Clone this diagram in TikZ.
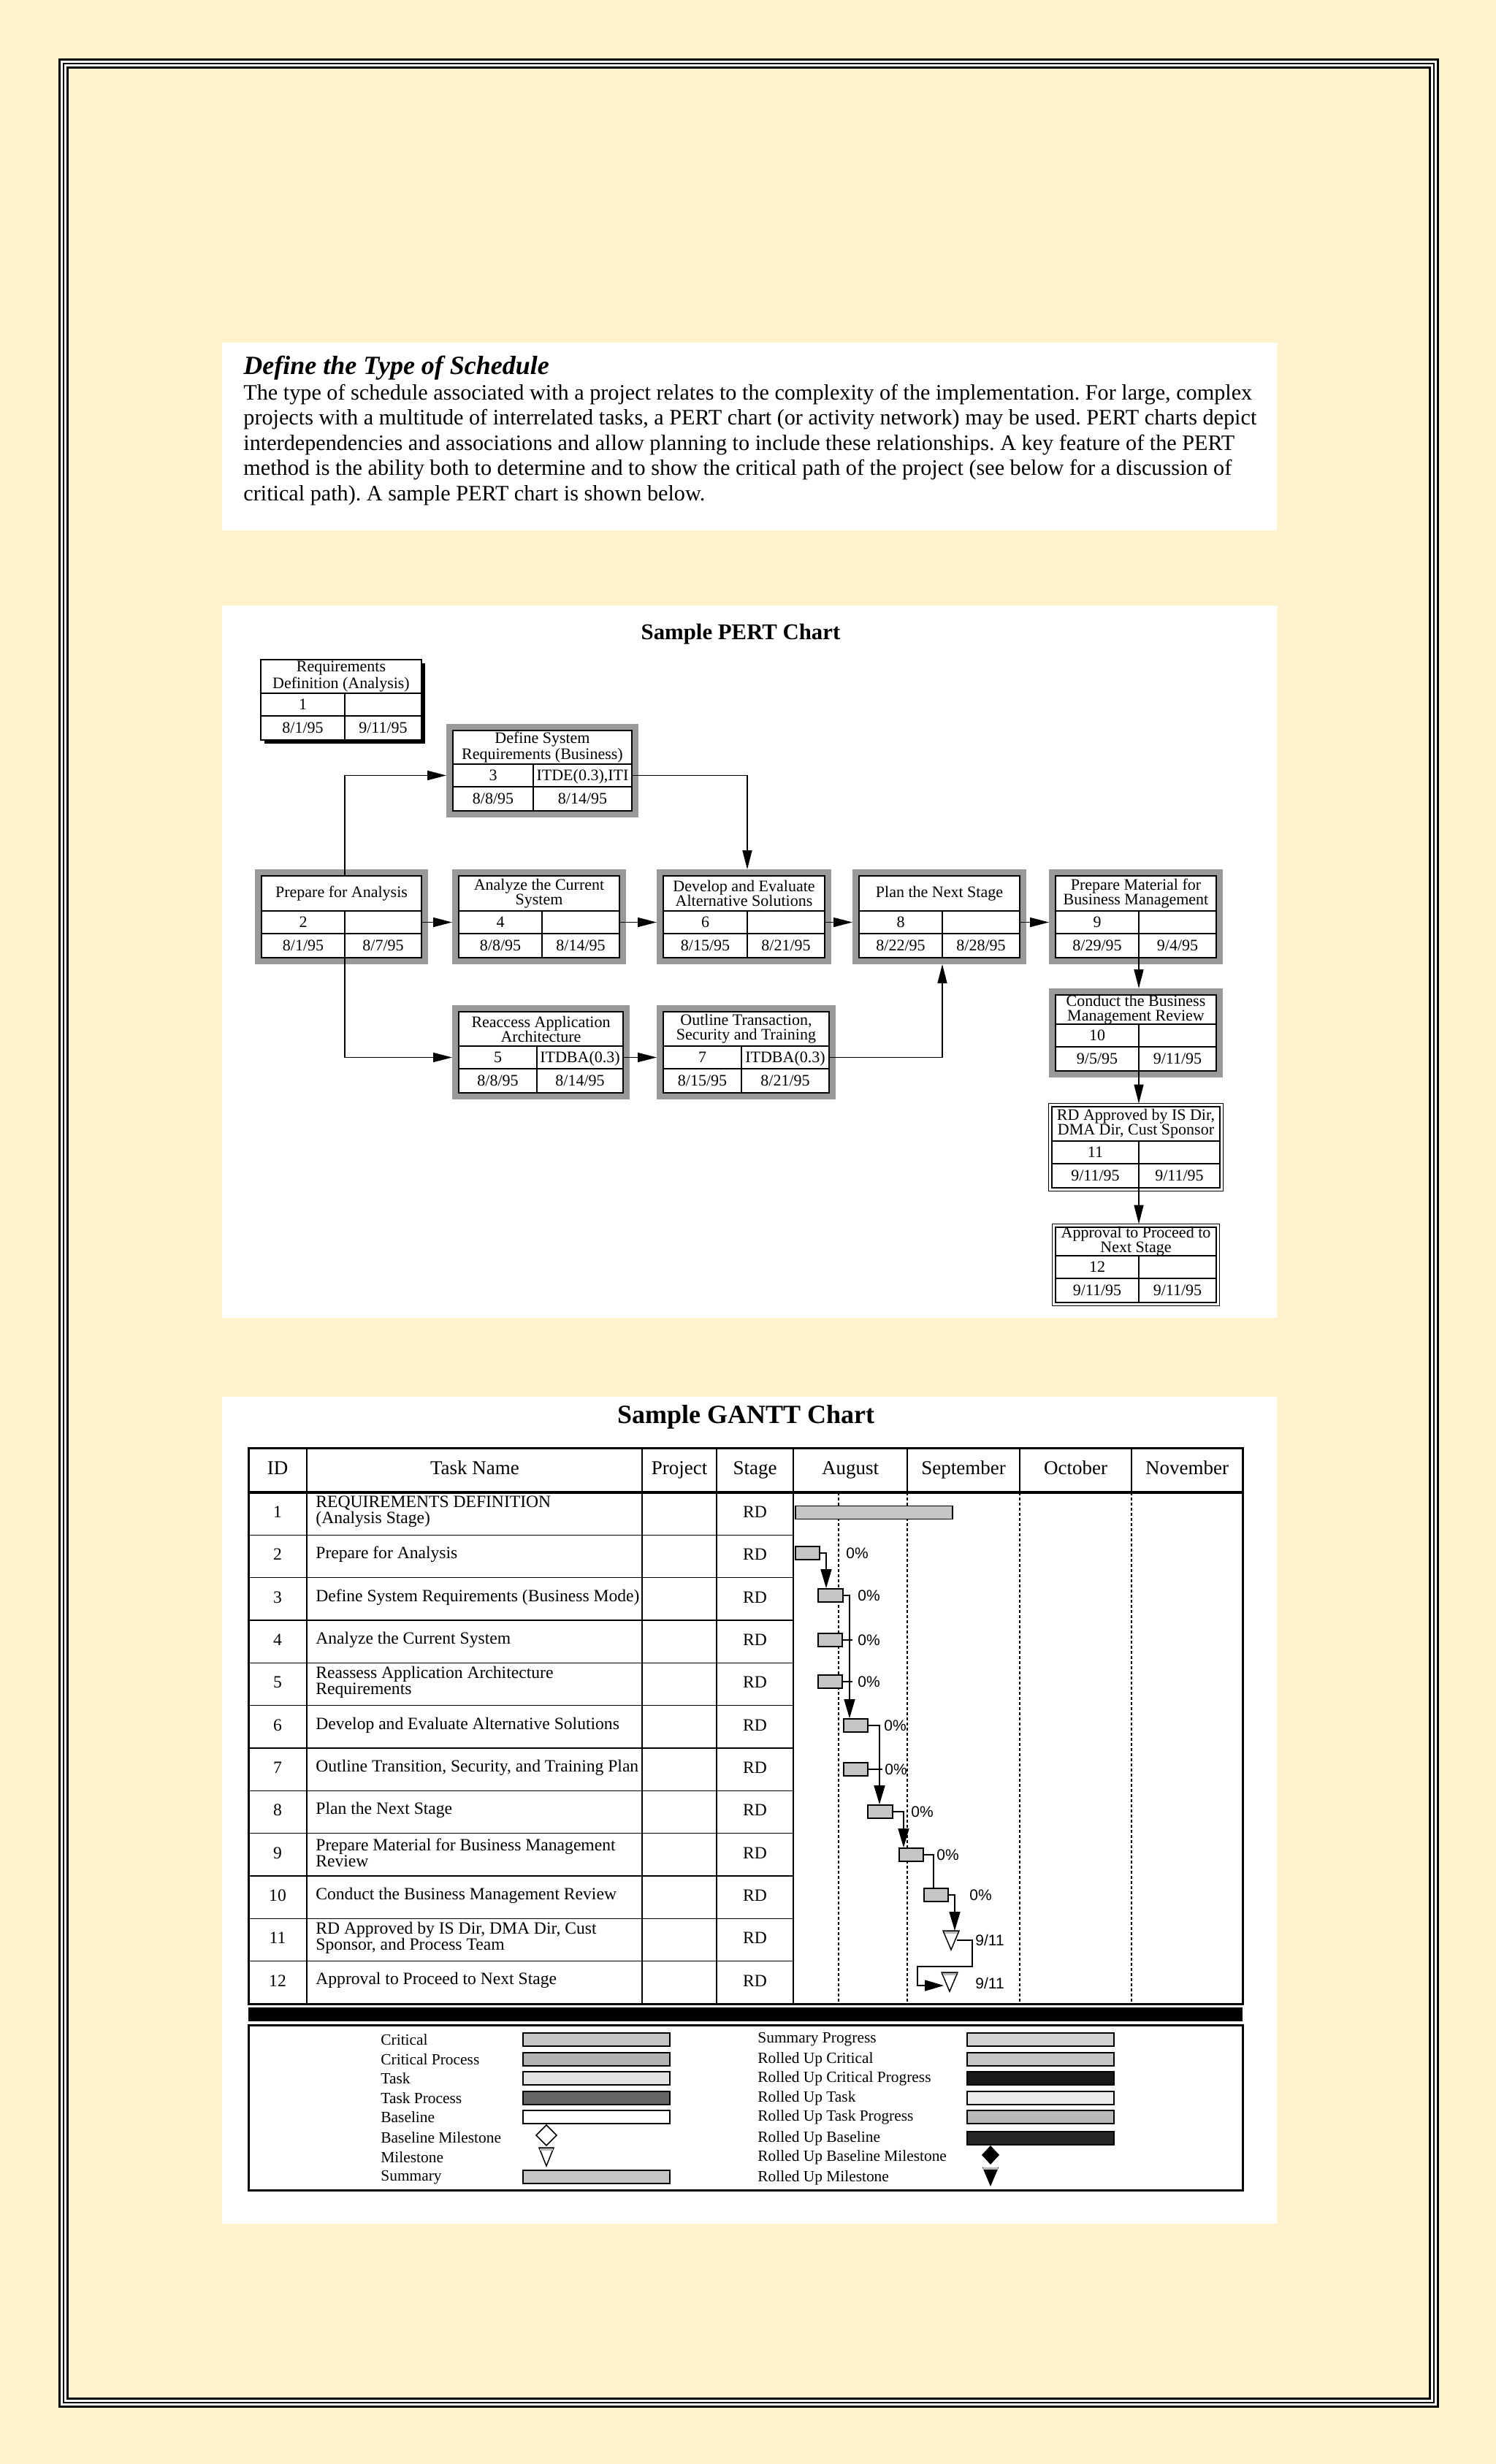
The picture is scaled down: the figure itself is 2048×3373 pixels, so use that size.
\documentclass[tikz,border=0pt]{standalone}
\usepackage{fontspec}
\setmainfont{Liberation Serif}
\setsansfont{Liberation Sans}
\usetikzlibrary{arrows.meta,calc}

\definecolor{pagebg}{RGB}{255,242,204}

% PERT activity box: name, x1, y1, x2, y2, split x, title, number, resource
\newcommand\pertbox[9]{%
  \draw[pframe] ({#2-4.5},{#3-4.5}) rectangle ({#4+4.5},{#5+4.5});
  \draw[pcell, fill=white] (#2,#3) rectangle (#4,#5);
  \draw[pcell] (#2,{#5-64}) -- (#4,{#5-64}) (#2,{#5-33}) -- (#4,{#5-33}) (#6,{#5-64}) -- (#6,#5);
  \node[ptitle] (#1h) at ({(#2+#4)/2},{(#3+#5-64)/2}) {#7};
  \node[pnum] (#1n) at ({(#2+#6)/2},{#5-48.5}) {#8};
  \node[pnum] (#1x) at ({(#6+#4)/2},{#5-48.5}) {#9};
  \coordinate (#1t) at (#6,#3);
  \coordinate (#1b) at (#6,#5);
  \coordinate (#1l) at (#2,{#5-48.5});
  \coordinate (#1r) at (#4,{#5-48.5});
  \coordinate (#1s) at ({(#2+#6)/2},{#5-16.5});
  \coordinate (#1e) at ({(#6+#4)/2},{#5-16.5});
}

\begin{document}
\frenchspacing
\begin{tikzpicture}[x=0.5pt, y=-0.5pt,
  pframe/.style={draw=black!40, line width=4.5pt},
  pcell/.style={line width=0.9pt},
  ptitle/.style={align=center, inner sep=0, font=\fontsize{11}{10}\selectfont},
  pnum/.style={inner sep=0, font=\fontsize{11}{12}\selectfont, text height=7.3pt, text depth=0pt},
  parr/.style={line width=0.75pt, -{Triangle[length=13pt,width=6.5pt]}, shorten >=4.5pt},
  gline/.style={line width=0.75pt},
  gbar/.style={draw, line width=0.9pt, fill=gray!45, inner sep=0, minimum height=9pt, anchor=west},
  garr/.style={line width=0.75pt, -{Triangle[length=13pt,width=7.5pt]}},
  ghead/.style={font=\fontsize{13.5}{14}\selectfont, anchor=base, inner sep=0},
  gtext/.style={font=\fontsize{11.8}{11}\selectfont, inner sep=0},
  gtask/.style={gtext, anchor=west, align=left},
  pct/.style={font=\sffamily\fontsize{10.5}{12}\selectfont, anchor=west, inner sep=0},
  legtext/.style={font=\fontsize{10.7}{12}\selectfont, anchor=west, inner sep=0},
  swatch/.style={draw, line width=1pt}]

\useasboundingbox (0,0) rectangle (2048,3373);
\fill[pagebg] (0,0) rectangle (2048,3373);

% page frame
\draw[white, line width=6.5pt] (87,87) rectangle (1963,3289);
\draw[line width=1.5pt] (81.5,81.5) rectangle (1968.5,3294.5);
\draw[line width=1pt] (87,87) rectangle (1963,3289);
\draw[line width=1.5pt] (92.5,92.5) rectangle (1957.5,3283.5);

% intro text
\fill[white] (304,469) rectangle (1748,726);
\node[anchor=base west, inner sep=0, font=\bfseries\itshape\fontsize{18}{20}\selectfont] (ttl) at (333,512) {Define the Type of Schedule};
\node[anchor=north west, inner sep=0, align=left, font=\fontsize{15.1}{17.25}\selectfont] (para) at (333,525.5)
  {The type of schedule associated with a project relates to the complexity of the implementation. For large, complex\\
   projects with a multitude of interrelated tasks, a PERT chart (or activity network) may be used. PERT charts depict\\
   interdependencies and associations and allow planning to include these relationships. A key feature of the PERT\\
   method is the ability both to determine and to show the critical path of the project (see below for a discussion of\\
   critical path). A sample PERT chart is shown below.};

% PERT chart
\fill[white] (304,829) rectangle (1748,1804);
\node[anchor=base, inner sep=0, font=\bfseries\fontsize{15.4}{18}\selectfont] (pttl) at (1014,875) {Sample PERT Chart};

\begin{scope}[pframe/.style={draw=none}]
  \fill (362,908) rectangle (582,1018);
  \pertbox{b1}{357}{903}{577}{1013}{472}{Requirements\\Definition (Analysis)}{1}{}
\end{scope}
\pertbox{b2}{358}{1199}{577}{1311}{472}{Prepare for Analysis}{2}{}
\pertbox{b3}{620}{1000}{865}{1110}{730}{Define System\\Requirements (Business)}{3}{ITDE(0.3),ITI}
\pertbox{b4}{628}{1199}{848}{1311}{742}{Analyze the Current\\System}{4}{}
\pertbox{b5}{628}{1385}{853}{1496}{735}{Reaccess Application\\Architecture}{5}{ITDBA(0.3)}
\pertbox{b6}{908}{1199}{1129}{1311}{1023}{Develop and Evaluate\\Alternative Solutions}{6}{}
\pertbox{b7}{908}{1385}{1135}{1496}{1015}{Outline Transaction,\\Security and Training}{7}{ITDBA(0.3)}
\pertbox{b8}{1176}{1199}{1396}{1311}{1290}{Plan the Next Stage}{8}{}
\pertbox{b9}{1445}{1199}{1665}{1311}{1559}{Prepare Material for\\Business Management}{9}{}
\pertbox{b10}{1445}{1362}{1665}{1466}{1559}{Conduct the Business\\Management Review}{10}{}
\begin{scope}[pframe/.style={draw, line width=0.75pt}]
  \pertbox{b11}{1440}{1515}{1670}{1626}{1559}{RD Approved by IS Dir,\\DMA Dir, Cust Sponsor}{11}{}
  \pertbox{b12}{1445}{1680}{1665}{1783}{1559}{Approval to Proceed to\\Next Stage}{12}{}
\end{scope}

\node[pnum] (d1s) at (b1s) {8/1/95};   \node[pnum] (d1e) at (b1e) {9/11/95};
\node[pnum] (d2s) at (b2s) {8/1/95};   \node[pnum] (d2e) at (b2e) {8/7/95};
\node[pnum] (d3s) at (b3s) {8/8/95};   \node[pnum] (d3e) at (b3e) {8/14/95};
\node[pnum] (d4s) at (b4s) {8/8/95};   \node[pnum] (d4e) at (b4e) {8/14/95};
\node[pnum] (d5s) at (b5s) {8/8/95};   \node[pnum] (d5e) at (b5e) {8/14/95};
\node[pnum] (d6s) at (b6s) {8/15/95};  \node[pnum] (d6e) at (b6e) {8/21/95};
\node[pnum] (d7s) at (b7s) {8/15/95};  \node[pnum] (d7e) at (b7e) {8/21/95};
\node[pnum] (d8s) at (b8s) {8/22/95};  \node[pnum] (d8e) at (b8e) {8/28/95};
\node[pnum] (d9s) at (b9s) {8/29/95};  \node[pnum] (d9e) at (b9e) {9/4/95};
\node[pnum] (d10s) at (b10s) {9/5/95}; \node[pnum] (d10e) at (b10e) {9/11/95};
\node[pnum] (d11s) at (b11s) {9/11/95}; \node[pnum] (d11e) at (b11e) {9/11/95};
\node[pnum] (d12s) at (b12s) {9/11/95}; \node[pnum] (d12e) at (b12e) {9/11/95};

\draw[parr] (b2t) |- (b3l);
\draw[parr] (b2r) -- (b4l);
\draw[parr] (b2b) |- (b5l);
\draw[parr] (b3r) -| (b6t);
\draw[parr] (b4r) -- (b6l);
\draw[parr] (b5r) -- (b7l);
\draw[parr] (b6r) -- (b8l);
\draw[parr] (b7r) -| (b8b);
\draw[parr] (b8r) -- (b9l);
\draw[parr] (b9b) -- (b10t);
\draw[parr, shorten >=2.25pt] (b10b) -- (b11t);
\draw[parr, shorten >=2.25pt] (b11b) -- (b12t);

% GANTT chart
\fill[white] (304,1912) rectangle (1748,3044);
\node[anchor=base, inner sep=0, font=\bfseries\fontsize{18}{20}\selectfont] (gttl) at (1021,1948) {Sample GANTT Chart};

\node[ghead] (hid) at (380,2018) {ID};
\node[ghead] (htask) at (650,2018) {Task Name};
\node[ghead] (hproj) at (930,2018) {Project};
\node[ghead] (hstage) at (1033.5,2018) {Stage};
\node[ghead] (haug) at (1164,2018) {August};
\node[ghead] (hsep) at (1319,2018) {September};
\node[ghead] (hoct) at (1472.5,2018) {October};
\node[ghead] (hnov) at (1625,2018) {November};

\foreach \x in {420,879,981,1086,1242,1396,1549}
  \draw[gline] (\x,1982) -- (\x,2043);
\foreach \x in {420,879,981,1086}
  \draw[gline] (\x,2043) -- (\x,2743);
\foreach \x in {1148,1242,1396,1549}
  \draw[gline, dash pattern=on 2pt off 1.5pt] (\x,2043) -- (\x,2743);

\foreach \i/\task in {1/{REQUIREMENTS DEFINITION\\(Analysis Stage)}, 2/Prepare for Analysis,
    3/Define System Requirements (Business Mode), 4/Analyze the Current System,
    5/{Reassess Application Architecture\\Requirements}, 6/Develop and Evaluate Alternative Solutions,
    7/{Outline Transition, Security, and Training Plan}, 8/Plan the Next Stage,
    9/{Prepare Material for Business Management\\Review}, 10/Conduct the Business Management Review,
    11/{RD Approved by IS Dir, DMA Dir, Cust\\Sponsor, and Process Team}, 12/Approval to Proceed to Next Stage} {
  \node[gtext] (id\i) at (380,{2040.5+58.33*(\i-0.5)}) {\i};
  \node[gtask] (task\i) at (432,{2040.5+58.33*(\i-0.5)}) {\task};
  \node[gtext] (stg\i) at (1033.5,{2040.5+58.33*(\i-0.5)}) {RD};
  \draw[gline] (340,{2043+58.33*\i}) -- (1086,{2043+58.33*\i});
}

\draw[line width=1.5pt] (340,1982) rectangle (1701,2743);
\draw[line width=2pt] (340,2043) -- (1701,2043);

% bars
\node[gbar, minimum width=107.5pt] (g1) at (1088,2070.5) {};
\node[gbar, minimum width=16.5pt] (g2) at (1088,2126) {};
\node[gbar, minimum width=17pt] (g3) at (1119,2184) {};
\node[gbar, minimum width=16.5pt] (g4) at (1119,2245) {};
\node[gbar, minimum width=16.5pt] (g5) at (1119,2302) {};
\node[gbar, minimum width=16.5pt] (g6) at (1154,2362) {};
\node[gbar, minimum width=16.5pt] (g7) at (1154,2422) {};
\node[gbar, minimum width=17pt] (g8) at (1187,2480) {};
\node[gbar, minimum width=16.5pt] (g9) at (1230,2539) {};
\node[gbar, minimum width=16.5pt] (g10) at (1264,2594) {};
\coordinate (m11) at (1302,2656);
\coordinate (m12) at (1300,2713);
\foreach \m in {m11,m12} {
  \draw[line width=0.75pt, fill=white] ($(\m)+(-11,-13)$) -- ($(\m)+(11,-13)$) -- ($(\m)+(0,13)$) -- cycle;
  \fill[gray!55] ($(\m)+(-9,-12)$) rectangle ($(\m)+(9,-9)$);
}

\node[pct] (p2) at (1158,2126) {0\%};
\node[pct] (p3) at (1174,2184) {0\%};
\node[pct] (p4) at (1174,2245) {0\%};
\node[pct] (p5) at (1174,2302) {0\%};
\node[pct] (p6) at (1210,2362) {0\%};
\node[pct] (p7) at (1211,2422) {0\%};
\node[pct] (p8) at (1247,2480) {0\%};
\node[pct] (p9) at (1282,2539) {0\%};
\node[pct] (p10) at (1327,2594) {0\%};
\node[pct] (l11) at (1335,2656) {9/11};
\node[pct] (l12) at (1335,2715) {9/11};

% links
\draw[garr] (g2.east) -| ($(g3.north west)+(12,0)$);
\draw[garr] (g3.east) -| ($(g6.north west)+(9,0)$);
\draw[gline] (g4.east) -- ++(13,0);
\draw[gline] (g5.east) -- ++(13,0);
\draw[garr] (g6.east) -| ($(g8.north west)+(17,0)$);
\draw[gline] (g7.east) -- ++(19,0);
\draw[garr] (g8.east) -| ($(g9.north west)+(7,0)$);
\draw[gline] (g9.east) -| ($(g10.north west)+(14,0)$);
\draw[garr] (g10.east) -| ($(m11)+(5,-13)$);
\draw[garr] ($(m11)+(8,0)$) -- ++(21,0) -- ++(0,36) -- ++(-75,0) -- ++(0,26) -- ($(m12)+(-8,5)$);

% legend
\fill (340,2748) rectangle (1701,2767);
\draw[line width=1.5pt] (340,2772) rectangle (1701,2998);

\foreach \t/\y [count=\k] in {Critical/2792, Critical Process/2819, Task/2845, Task Process/2872,
    Baseline/2898, Baseline Milestone/2926, Milestone/2953, Summary/2981}
  \node[legtext] (ll\k) at (521,\y) {\t};
\foreach \t/\y [count=\k] in {Summary Progress/2792, Rolled Up Critical/2819, Rolled Up Critical Progress/2845,
    Rolled Up Task/2872, Rolled Up Task Progress/2898, Rolled Up Baseline/2927,
    Rolled Up Baseline Milestone/2953, Rolled Up Milestone/2981}
  \node[legtext] (lr\k) at (1037,\y) {\t};

\foreach \f/\y in {gray!45/2792, gray!60/2819, gray!22/2845, black!60/2872, white/2898, gray!45/2980}
  \draw[swatch, fill=\f] (716,\y-9) rectangle (917,\y+9);
\foreach \f/\y in {gray!35/2792, gray!45/2819, black!90/2845, gray!15/2872, gray!55/2898, black!85/2927}
  \draw[swatch, fill=\f] (1324,\y-9) rectangle (1525,\y+9);

\draw[line width=0.75pt, fill=white] (748,2909) -- (762,2923) -- (748,2937) -- (734,2923) -- cycle;
\draw[line width=0.75pt, fill=white] (738,2940) -- (758,2940) -- (748,2965) -- cycle;
\fill[gray!55] (739,2941) rectangle (757,2944);
\fill (1356,2937) -- (1368,2950) -- (1356,2963) -- (1344,2950) -- cycle;
\fill (1345,2967) -- (1367,2967) -- (1356,2993) -- cycle;
\fill[gray!55] (1346,2967) rectangle (1366,2970);

\end{tikzpicture}
\end{document}
